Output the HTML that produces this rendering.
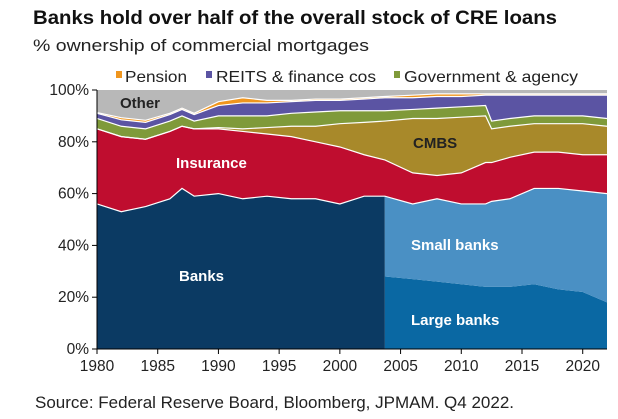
<!DOCTYPE html>
<html><head><meta charset="utf-8"><style>
body{margin:0;background:#fff;font-family:"Liberation Sans",sans-serif}
</style></head><body>
<svg id="c" width="618" height="414" xmlns="http://www.w3.org/2000/svg" font-family="Liberation Sans, sans-serif">
<text x="33" y="24" font-size="19.5" font-weight="bold" fill="#111" textLength="524" lengthAdjust="spacingAndGlyphs">Banks hold over half of the overall stock of CRE loans</text>
<text x="33" y="51" font-size="17" fill="#222" textLength="336" lengthAdjust="spacingAndGlyphs">% ownership of commercial mortgages</text>
<g font-size="16" fill="#222">
<rect x="116" y="71" width="6" height="7" fill="#f0961e"/><text x="125" y="82" textLength="62" lengthAdjust="spacingAndGlyphs">Pension</text>
<rect x="206" y="71" width="6" height="7" fill="#5b54a3"/><text x="216" y="82" textLength="160" lengthAdjust="spacingAndGlyphs">REITS &amp; finance cos</text>
<rect x="394" y="71" width="6" height="7" fill="#7f9a3a"/><text x="404" y="82" textLength="174" lengthAdjust="spacingAndGlyphs">Government &amp; agency</text>
</g>
<g id="plot"></g>
<g id="axes"></g>
<text x="35" y="408" font-size="16.5" fill="#222" textLength="479" lengthAdjust="spacingAndGlyphs">Source: Federal Reserve Board, Bloomberg, JPMAM. Q4 2022.</text>
</svg>
<script>
const years=[1980,1982,1984,1986,1987,1988,1990,1992,1994,1996,1998,2000,2002,2003.7,2003.71,2006,2008,2010,2012,2012.5,2014,2016,2018,2020,2022];
const banks=[56,53,55,58,62,59,60,58,59,58,58,56,59,59,0,0,0,0,0,0,0,0,0,0,0];
const largeBanks=[0,0,0,0,0,0,0,0,0,0,0,0,0,0,28,27,26,25,24,24,24,25,23,22,18];
const smallBanks=[0,0,0,0,0,0,0,0,0,0,0,0,0,0,31,29,32,31,32,33,34,37,39,39,42];
const insurance=[29,29,26,26,24,26,25,26,24,24,22,22,16,14,14,12,9,12,16,15,16,14,14,14,15];
const cmbs=[0,0,0,0,0,0,0.5,1,2.5,4,6,9,12.5,15,15,21,22,21.5,18,13,12,11,11,12,11];
const govt=[4,4,4,4,4,3,4.5,5,4.5,5,5.5,5,4.5,4,4,3.5,4,4,4,3,3,3,3,3,3];
const reits=[2,2.5,2.5,2.5,2.5,2.5,4,5,5,4.5,4.5,4,4.5,5,5,4.5,4.5,4,4,10,9,8,8,8,9];
const pension=[0.3,0.8,0.8,0.5,0.5,0.5,1.5,2,1,0.5,0.5,0.5,0.5,0.5,0.5,1,1,1,0.5,0.5,0.5,0.5,0.5,0.5,0.5];
const yTicks=[0,20,40,60,80,100];
const xTicks=[1980,1985,1990,1995,2000,2005,2010,2015,2020];
const X0=97,X1=607,Y0=349,Y1=90;
const xs=y=>X0+(y-1980)/(2022-1980)*(X1-X0);
const ys=v=>Y0-v/100*(Y0-Y1);
const NS="http://www.w3.org/2000/svg";
const plot=document.getElementById('plot'),axes=document.getElementById('axes');
const layers=[["banks",banks,"#0b3a63"],["large-banks",largeBanks,"#0a68a3"],["small-banks",smallBanks,"#4a90c4"],["insurance",insurance,"#bf0d2f"],["cmbs",cmbs,"#a8892a"],["government",govt,"#7f9a3a"],["reits",reits,"#5b54a3"],["pension",pension,"#f0961e"]];
let base=years.map(()=>0);
const tops=[];
layers.forEach(([n,arr,col])=>{
  const top=base.map((b,i)=>b+arr[i]);
  let d="M"+years.map((y,i)=>xs(y)+","+ys(top[i])).join("L");
  for(let i=years.length-1;i>=0;i--)d+="L"+xs(years[i])+","+ys(base[i]);
  const p=document.createElementNS(NS,"path");
  p.setAttribute("d",d+"Z");p.setAttribute("fill",col);
  
  
  plot.appendChild(p);
  tops.push(top);base=top;
});
{
  let d="M"+years.map(y=>xs(y)+","+ys(100)).join("L");
  for(let i=years.length-1;i>=0;i--)d+="L"+xs(years[i])+","+ys(base[i]);
  const p=document.createElementNS(NS,"path");
  p.setAttribute("d",d+"Z");p.setAttribute("fill","#b8b8b8");
  
  
  plot.appendChild(p);
}
[2,3,4,5,6,7].forEach(k=>{
  const p=document.createElementNS(NS,"polyline");
  p.setAttribute("points",years.map((y,i)=>xs(y)+","+ys(tops[k][i])).join(" "));
  p.setAttribute("fill","none");p.setAttribute("stroke","#fff");p.setAttribute("stroke-width","1.2");
  
  
  plot.appendChild(p);
});
function txt(x,y,s,fill,name,size,anchor){
  const t=document.createElementNS(NS,"text");
  t.setAttribute("x",x);t.setAttribute("y",y);t.setAttribute("fill",fill);
  t.setAttribute("font-size",size||15);t.setAttribute("font-weight","bold");
  if(anchor)t.setAttribute("text-anchor",anchor);
  t.textContent=s;
  
  
  plot.appendChild(t);
}
txt(120,108,"Other","#222","label-other");
txt(176,168,"Insurance","#fff","label-insurance");
txt(413,148,"CMBS","#222","label-cmbs");
txt(179,281,"Banks","#fff","label-banks");
txt(411,250,"Small banks","#fff","label-small-banks");
txt(411,325,"Large banks","#fff","label-large-banks");
const la=document.createElementNS(NS,"path");
la.setAttribute("d",`M${X0},${Y1}V${Y0}H${X1}`);la.setAttribute("stroke","#000");la.setAttribute("fill","none");


axes.appendChild(la);
yTicks.forEach(v=>{
  const l=document.createElementNS(NS,"line");
  l.setAttribute("x1",X0-5);l.setAttribute("x2",X0);l.setAttribute("y1",ys(v));l.setAttribute("y2",ys(v));l.setAttribute("stroke","#000");
  
  
  axes.appendChild(l);
  const t=document.createElementNS(NS,"text");
  t.setAttribute("x",X0-8);t.setAttribute("y",ys(v)+5);t.setAttribute("text-anchor","end");t.setAttribute("font-size","15.5");t.setAttribute("fill","#222");
  t.textContent=v+"%";
  
  
  axes.appendChild(t);
});
xTicks.forEach(v=>{
  const l=document.createElementNS(NS,"line");
  l.setAttribute("x1",xs(v));l.setAttribute("x2",xs(v));l.setAttribute("y1",Y0);l.setAttribute("y2",Y0+5);l.setAttribute("stroke","#000");
  
  
  axes.appendChild(l);
  const t=document.createElementNS(NS,"text");
  t.setAttribute("x",xs(v));t.setAttribute("y",Y0+22);t.setAttribute("text-anchor","middle");t.setAttribute("font-size","15.5");t.setAttribute("fill","#222");
  t.textContent=v;
  
  
  axes.appendChild(t);
});
</script>
</body></html>
